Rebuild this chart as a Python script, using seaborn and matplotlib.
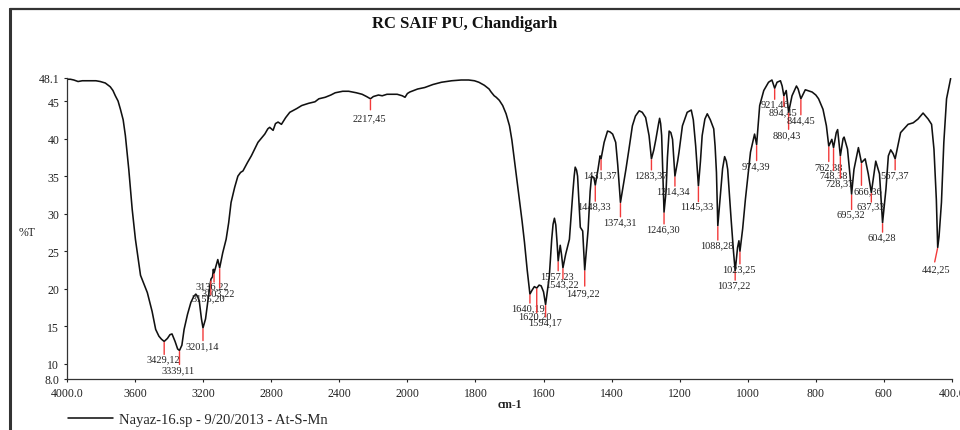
import numpy as np
import pandas as pd
import matplotlib
matplotlib.use("Agg")
import matplotlib.pyplot as plt
from matplotlib.lines import Line2D
from matplotlib.ticker import FixedLocator, FixedFormatter
import seaborn as sns

# ---------------- data ----------------
wavenumber = [
    4000, 3980, 3960, 3935, 3910, 3864, 3830, 3805, 3775, 3746, 3730, 3716, 3700, 3686,
    3670, 3657, 3637, 3617, 3598, 3568, 3528, 3500, 3479, 3460, 3445, 3429, 3410, 3395,
    3383, 3365, 3350, 3339, 3325, 3312, 3292, 3272, 3255, 3243, 3233, 3223, 3210, 3201,
    3186, 3173, 3160, 3154, 3145, 3140, 3136, 3125, 3114, 3103, 3085, 3065, 3050, 3036,
    3015, 2996, 2980, 2966, 2940, 2917, 2878, 2838, 2820, 2809, 2789, 2775, 2760, 2740,
    2715, 2691, 2650, 2621, 2580, 2543, 2520, 2483, 2450, 2424, 2380, 2345, 2300, 2266,
    2240, 2217, 2200, 2170, 2148, 2120, 2089, 2060, 2030, 2014, 2000, 1993, 1970, 1949,
    1925, 1900, 1870, 1842, 1820, 1803, 1790, 1774, 1760, 1754, 1745, 1739, 1730, 1720,
    1710, 1700, 1693, 1686, 1678, 1671, 1663, 1656, 1648, 1640, 1634, 1627, 1620, 1613,
    1607, 1600, 1594, 1583, 1576, 1572, 1568, 1564, 1560, 1557, 1551, 1547, 1543, 1535,
    1524, 1514, 1510, 1507, 1503, 1500, 1496, 1492, 1485, 1482, 1479, 1469, 1463, 1459,
    1452, 1448, 1440, 1434, 1431, 1422, 1412, 1405, 1397, 1388, 1382, 1374, 1365, 1358,
    1349, 1339, 1330, 1319, 1310, 1300, 1290, 1283, 1276, 1270, 1262, 1259, 1256, 1253,
    1246, 1240, 1236, 1231, 1226, 1221, 1214, 1206, 1202, 1192, 1178, 1166, 1160, 1153,
    1145, 1139, 1134, 1126, 1119, 1110, 1100, 1096, 1092, 1088, 1080, 1074, 1068, 1063,
    1059, 1049, 1042, 1037, 1030, 1026, 1023, 1015, 1007, 992, 980, 974, 965, 953, 939,
    929, 921, 914, 904, 899, 894, 887, 880, 870, 857, 852, 844, 831, 811, 800, 792, 779,
    769, 762, 753, 748, 740, 736, 728, 720, 717, 707, 699, 695, 688, 675, 666, 655, 646,
    637, 624, 613, 604, 594, 587, 580, 573, 567, 551, 529, 514, 500, 485, 470, 460, 453,
    446, 442, 438, 431, 424, 416, 404,
]
transmittance = [
    47.9, 47.9, 47.8, 47.6, 47.7, 47.7, 47.7, 47.6, 47.4, 46.9, 46.4, 45.7, 45.0, 43.9,
    42.5, 40.4, 35.9, 30.6, 26.6, 21.8, 19.5, 17.0, 14.6, 13.7, 13.3, 13.0, 13.4, 13.9,
    14.0, 13.0, 12.0, 11.8, 12.5, 14.6, 16.6, 18.2, 19.0, 19.3, 19.0, 18.4, 16.0, 14.8,
    16.0, 18.2, 20.5, 21.3, 21.6, 22.6, 22.1, 23.0, 23.9, 22.8, 24.8, 26.6, 28.8, 31.5,
    33.5, 35.0, 35.5, 35.7, 36.8, 37.7, 39.5, 40.6, 41.3, 41.5, 41.1, 42.0, 42.2, 41.9,
    42.8, 43.5, 44.0, 44.4, 44.7, 44.9, 45.3, 45.5, 45.8, 46.1, 46.3, 46.3, 46.1, 45.9,
    45.6, 45.3, 45.6, 45.8, 45.7, 45.9, 45.9, 45.9, 45.7, 45.5, 46.0, 46.2, 46.6, 46.8,
    47.2, 47.5, 47.7, 47.8, 47.8, 47.7, 47.5, 47.1, 46.6, 46.2, 45.7, 45.5, 45.1, 44.4,
    43.3, 41.7, 39.8, 37.3, 34.5, 31.9, 29.0, 26.2, 22.5, 19.3, 19.8, 20.3, 20.1, 20.5,
    20.4, 19.6, 17.9, 21.7, 26.6, 28.6, 29.4, 28.5, 26.0, 23.7, 25.8, 24.5, 22.8, 24.6,
    26.6, 32.8, 35.0, 36.2, 35.8, 35.0, 31.5, 28.2, 27.7, 25.0, 22.5, 27.9, 33.0, 35.0,
    34.8, 33.8, 35.9, 37.7, 37.3, 39.5, 41.0, 40.9, 40.6, 39.5, 36.5, 31.5, 34.0, 35.9,
    38.6, 41.7, 43.0, 43.7, 43.5, 42.8, 40.4, 37.3, 38.5, 39.9, 42.0, 42.7, 42.0, 40.4,
    30.2, 33.0, 37.5, 41.0, 40.8, 39.9, 35.0, 37.0, 38.2, 41.7, 43.5, 43.8, 42.5, 39.0,
    33.7, 37.0, 40.4, 42.6, 43.3, 42.5, 41.3, 39.0, 35.5, 28.4, 32.8, 36.0, 37.6, 37.0,
    35.9, 29.3, 25.0, 22.4, 25.5, 26.4, 25.0, 28.0, 31.9, 38.2, 40.6, 39.2, 44.4, 46.4, 47.5,
    47.8, 46.7, 47.5, 47.7, 47.0, 45.7, 46.4, 43.5, 45.7, 47.0, 46.6, 45.3, 46.5, 46.2, 45.8, 45.3, 43.9,
    41.7, 39.0, 39.9, 38.8, 40.8, 41.2, 37.7, 40.0, 40.2, 38.6, 34.8, 32.6, 35.9, 38.8, 36.8, 37.3, 35.3,
    32.8, 37.0, 35.3, 28.8, 33.3, 37.7, 38.5, 38.0, 37.3, 40.8, 41.9, 42.1, 42.6, 43.4, 42.6, 41.9, 38.6,
    31.9, 25.5, 27.0, 31.5, 39.5, 45.3, 48.0,
]

peak_wn = [3429, 3339, 3201, 3155, 3136, 3103, 2217, 1640, 1620, 1594, 1557, 1543,
           1479, 1448, 1431, 1374, 1283, 1246, 1214, 1145, 1088, 1037, 1023, 974,
           921, 894, 880, 844, 762, 748, 728, 695, 666, 637, 604, 567, 442]
peak_t = [12, 11, 14, 20, 22, 22, 45, 19, 20, 17, 23, 22,
          22, 33, 37, 31, 37, 30, 34, 33, 28, 22, 25, 39,
          46, 45, 43, 45, 38, 38, 37, 32, 36, 33, 28, 37, 25]

x_ticks = [4000, 3600, 3200, 2800, 2400, 2000, 1800, 1600, 1400, 1200, 1000, 800, 600, 400]
x_tick_labels = ["4000.0", "3600", "3200", "2800", "2400", "2000", "1800", "1600",
                 "1400", "1200", "1000", "800", "600", "400.0"]
y_ticks = [8.0, 10, 15, 20, 25, 30, 35, 40, 45, 48.1]
y_tick_labels = ["8.0", "10", "15", "20", "25", "30", "35", "40", "45", "48.1"]

title = "RC SAIF PU, Chandigarh"
series_name = "Nayaz-16.sp - 9/20/2013 - At-S-Mn"
x_label = "cm-1"
y_label = "%T"

# peak-label layout in pixels: (line length, text dx, text dy, line slant)
label_layout = [
    (12, -1, 17, 0), (13, -1.5, 19.7, 0), (11.7, -1, 18.3, 0), (14, -2, 18, 0),
    (8, -1.3, 12.3, 0), (19, -1.5, 24.7, 0), (10, -1, 19, 0), (8, -1.8, 13.3, 0),
    (23.7, -1.5, 28, 0), (11.3, -1, 17.6, 0), (8.7, -1.7, 14.3, 0), (10, -1.3, 15.7, 0),
    (15, -1.3, 22.3, 0), (15, -1.3, 20.6, 0), (10, -1, 15.7, 0), (13.4, -1, 19.4, 0),
    (10, -1, 15.7, 0), (10.7, -1.3, 16.7, 0), (9, -1.7, 14.7, 0), (14.7, -1.6, 19.7, 0),
    (13.3, -1, 19.3, 0), (8.3, -1.3, 14, 0), (11.6, -0.6, 17.6, 0), (15, -0.9, 21.6, 0),
    (10, 0, 16, 0), (9.7, -0.8, 15.7, 0), (16, -1.5, 22.7, 0), (15, 0, 21, 0),
    (14.4, -0.7, 20.4, 0), (21.7, -0.3, 27.4, 0), (21, -1.2, 26.7, 0), (14.3, -0.5, 20, 0),
    (21.7, 6.3, 28.4, 0), (8.4, -0.5, 13.4, 0), (8.4, -0.5, 14, 0), (10, -0.3, 15.7, 0),
    (13.4, -1.7, 21, -3),
]

# ---------------- style ----------------
sns.set_style("ticks")
plt.rcParams['font.family'] = ['Liberation Serif', 'DejaVu Serif']

W, H = 960, 431
fig = plt.figure(figsize=(W / 100, H / 100), dpi=100)
ax = fig.add_axes([67 / W, 51 / H, 885 / W, 301.25 / H])


def fwd(x):
    x = np.asarray(x, dtype=float)
    return np.where(x > 2000, 2000 + (x - 2000) / 2.0, x)


def inv(u):
    u = np.asarray(u, dtype=float)
    return np.where(u > 2000, 2000 + (u - 2000) * 2.0, u)


ax.set_xscale('function', functions=(fwd, inv))

df = pd.DataFrame({"wn": wavenumber, "T": transmittance})
sns.lineplot(data=df, x="wn", y="T", sort=False, estimator=None, color="#111111",
             lw=1.15, ax=ax, legend=False)

ax.set_xlim(4000, 400)
ax.set_ylim(8.0, 48.1)
ax.xaxis.set_major_locator(FixedLocator(x_ticks))
ax.xaxis.set_major_formatter(FixedFormatter(x_tick_labels))
ax.xaxis.set_minor_locator(FixedLocator([]))
ax.yaxis.set_major_locator(FixedLocator(y_ticks))
ax.yaxis.set_major_formatter(FixedFormatter(y_tick_labels))
ax.tick_params(axis='both', direction='out', length=2.4, width=0.8, colors='#222222',
               labelsize=8.5, pad=3.2)
for s in ["top", "right"]:
    ax.spines[s].set_visible(False)
for s in ["left", "bottom"]:
    ax.spines[s].set_color("#333333")
    ax.spines[s].set_linewidth(0.9)

ax.set_xlabel(x_label, fontsize=8.5, fontweight='bold', color='#222222')
ax.xaxis.set_label_coords(0.5, -0.063)
ax.set_ylabel(y_label, fontsize=8.5, rotation=0, ha='center', va='center', color='#222222')
ax.yaxis.set_label_coords((26.7 - 67) / 885, (380 - 233.3) / 301.25)

# ---------------- peak labels ----------------
order = np.argsort(wavenumber)
wn_asc = np.asarray(wavenumber, dtype=float)[order]
t_asc = np.asarray(transmittance, dtype=float)[order]
px2pt = 72.0 / fig.dpi
for wn, t, (L, tdx, tdy, slant) in zip(peak_wn, peak_t, label_layout):
    t0 = np.interp(wn, wn_asc, t_asc)
    ax.annotate("", xy=(wn, t0), xycoords='data',
                xytext=(slant * px2pt, -(L + 1) * px2pt), textcoords='offset points',
                arrowprops=dict(arrowstyle='-', color='#f23a3a', lw=1.0,
                                shrinkA=0, shrinkB=1 * px2pt))
    ax.annotate(f"{wn},{t}", xy=(wn, t0), xycoords='data',
                xytext=(tdx * px2pt, -tdy * px2pt), textcoords='offset points',
                ha='center', va='center', fontsize=7.5, color='#222222')

# ---------------- legend, title, frame ----------------
ax.legend([ax.lines[0]], [series_name], loc='center left',
          bbox_to_anchor=(68 / W, 1 - 420 / H), bbox_transform=fig.transFigure,
          frameon=False, borderpad=0, borderaxespad=0, handlelength=3.1,
          handletextpad=0.4, fontsize=10.5)

fig.text(465 / W, 1 - 24 / H, title, ha='center', va='center', fontsize=12,
         fontweight='bold', color='#111111')

fig.add_artist(Line2D([10 / W, 1], [1 - 10 / H, 1 - 10 / H], transform=fig.transFigure,
                      color='#333333', lw=1.6))
fig.add_artist(Line2D([10 / W, 10 / W], [0, 1 - 10 / H], transform=fig.transFigure,
                      color='#333333', lw=2.2))

fig.savefig("out.png", dpi=100)
